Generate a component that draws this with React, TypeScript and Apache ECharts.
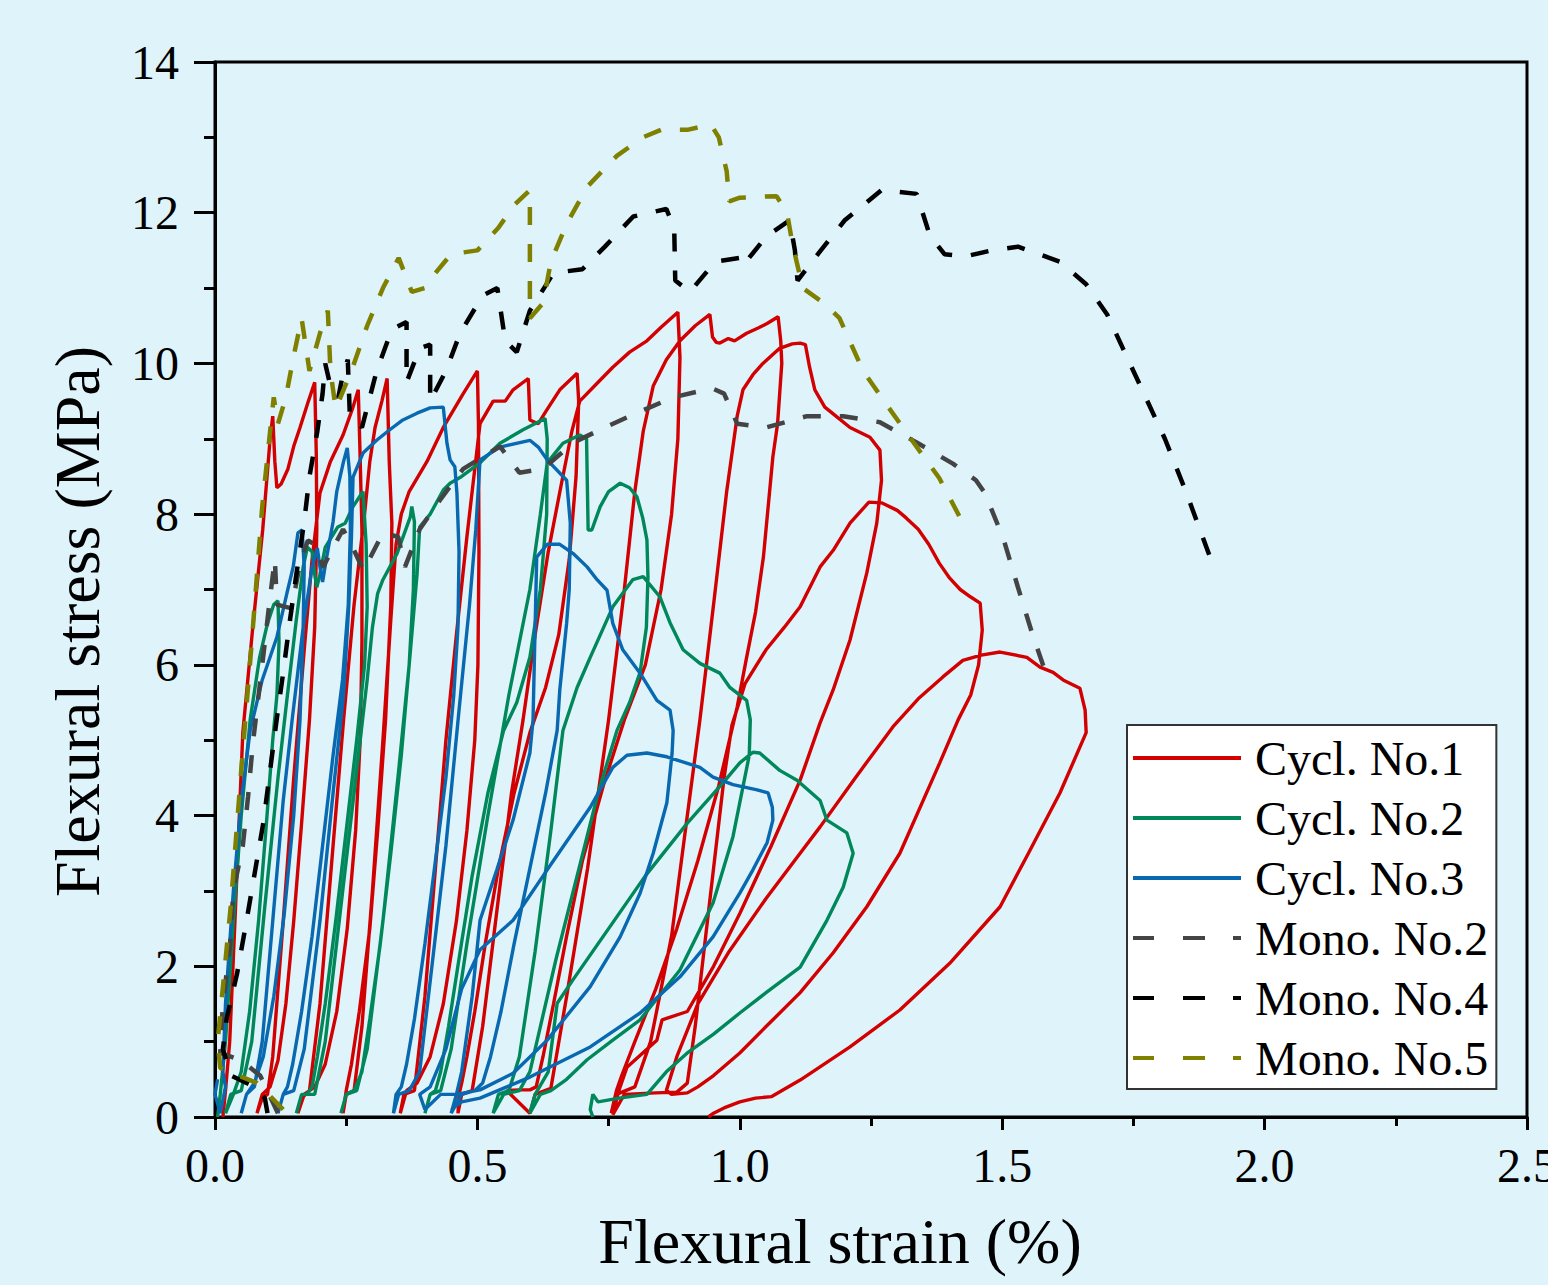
import React, { useEffect, useRef } from "react";
import * as echarts from "echarts";

const SERIES_NAMES = ["Cycl. No.1", "Cycl. No.2", "Cycl. No.3", "Mono. No.2", "Mono. No.4", "Mono. No.5"];
const SERIES_COLORS = ["#D20000", "#00875A", "#0868B0", "#444444", "#000000", "#808000"];

const X_LABELS = ["0.0", "0.5", "1.0", "1.5", "2.0", "2.5"];

// Cycl. No.1  [strain %, stress MPa]
const CYCL1: number[][] = [
  [0.015, 0.0], [0.02, 0.35], [0.028, 1.0], [0.038, 2.6], [0.053, 5.1], [0.072, 6.5], [0.091, 7.8], [0.105, 9.0], [0.11, 9.3],
  [0.114, 8.7], [0.118, 8.35], [0.126, 8.4], [0.139, 8.6], [0.15, 8.9], [0.162, 9.15], [0.178, 9.5], [0.19, 9.75],
  [0.193, 8.8], [0.194, 7.8], [0.19, 6.5], [0.18, 5.27], [0.165, 3.9], [0.15, 2.6], [0.135, 1.5], [0.12, 0.75], [0.105, 0.4], [0.09, 0.3], [0.08, 0.05], [0.09, 0.25],
  [0.1, 0.3], [0.11, 0.8], [0.13, 2.6], [0.15, 4.5], [0.17, 6.2], [0.185, 7.4], [0.2, 8.28], [0.22, 8.7], [0.244, 9.05], [0.262, 9.4], [0.273, 9.65],
  [0.276, 8.9], [0.28, 7.8], [0.28, 6.3], [0.277, 5.05], [0.268, 3.8], [0.252, 2.5], [0.232, 1.4], [0.21, 0.7], [0.19, 0.4], [0.17, 0.3], [0.158, 0.05], [0.165, 0.25],
  [0.18, 0.35], [0.2, 1.5], [0.225, 3.6], [0.245, 5.27], [0.265, 6.8], [0.285, 8.0], [0.295, 8.7], [0.305, 9.15], [0.318, 9.5], [0.328, 9.8],
  [0.332, 8.7], [0.337, 7.88], [0.335, 6.8], [0.325, 5.27], [0.31, 3.8], [0.295, 2.5], [0.275, 1.4], [0.26, 0.7], [0.25, 0.35], [0.244, 0.05], [0.25, 0.3],
  [0.265, 0.35], [0.28, 1.2], [0.3, 3.0], [0.32, 5.0], [0.335, 6.6], [0.345, 7.6], [0.355, 8.0], [0.37, 8.3], [0.404, 8.7], [0.435, 9.15], [0.473, 9.6], [0.5, 9.9],
  [0.502, 9.2], [0.503, 7.5], [0.501, 6.0], [0.495, 5.0], [0.48, 3.8], [0.46, 2.6], [0.435, 1.5], [0.41, 0.8], [0.385, 0.45], [0.365, 0.35], [0.353, 0.05], [0.36, 0.3],
  [0.38, 0.35], [0.4, 1.6], [0.42, 3.3], [0.44, 5.0], [0.46, 6.4], [0.48, 7.7], [0.495, 8.6], [0.505, 9.2], [0.53, 9.5], [0.553, 9.5], [0.568, 9.65], [0.597, 9.8],
  [0.6, 9.25], [0.616, 9.2], [0.632, 9.38], [0.657, 9.65], [0.69, 9.87],
  [0.693, 9.5], [0.688, 8.5], [0.675, 7.4], [0.655, 6.4], [0.63, 5.7], [0.6, 5.1], [0.57, 4.3], [0.54, 3.3], [0.515, 2.3], [0.495, 1.4], [0.48, 0.8], [0.47, 0.45], [0.465, 0.3], [0.463, 0.05], [0.47, 0.3],
  [0.49, 0.35], [0.51, 1.2], [0.54, 2.9], [0.565, 4.3], [0.587, 5.27], [0.61, 6.4], [0.635, 7.5], [0.66, 8.4], [0.68, 9.1], [0.695, 9.5], [0.73, 9.75], [0.758, 9.95], [0.79, 10.15], [0.823, 10.3], [0.85, 10.48], [0.882, 10.68],
  [0.886, 10.08], [0.882, 9.0], [0.87, 8.0], [0.85, 7.0], [0.82, 6.0], [0.78, 5.27], [0.74, 4.4], [0.7, 3.4], [0.67, 2.4], [0.645, 1.5], [0.625, 0.8], [0.612, 0.4], [0.6, 0.36], [0.58, 0.36], [0.556, 0.35], [0.6, 0.05], [0.61, 0.3],
  [0.64, 0.38], [0.67, 1.6], [0.71, 3.3], [0.75, 5.27], [0.78, 7.0], [0.8, 8.3], [0.816, 9.1], [0.835, 9.7], [0.86, 10.05], [0.886, 10.3], [0.915, 10.5], [0.943, 10.65],
  [0.948, 10.35], [0.955, 10.28], [0.962, 10.27], [0.978, 10.33], [0.99, 10.3], [1.013, 10.4], [1.035, 10.47], [1.052, 10.53], [1.073, 10.62],
  [1.078, 10.3], [1.08, 10.0], [1.072, 9.2], [1.063, 8.76], [1.045, 7.43], [1.03, 6.7], [1.013, 6.1], [0.995, 5.44], [0.96, 4.4], [0.92, 3.4], [0.88, 2.5], [0.84, 1.7], [0.8, 1.0], [0.775, 0.55], [0.765, 0.35], [0.755, 0.05],
  [0.765, 0.3], [0.8, 0.4], [0.83, 1.0], [0.87, 2.4], [0.9, 4.0], [0.924, 5.27], [0.95, 6.8], [0.975, 8.3], [0.995, 9.3], [1.006, 9.65], [1.025, 9.85], [1.044, 10.0], [1.076, 10.2], [1.1, 10.26], [1.115, 10.27],
  [1.125, 10.25], [1.133, 9.95], [1.143, 9.65], [1.162, 9.42], [1.185, 9.29], [1.21, 9.15], [1.248, 9.02], [1.267, 8.85], [1.27, 8.45],
  [1.261, 7.88], [1.242, 7.22], [1.21, 6.33], [1.178, 5.67], [1.153, 5.23], [1.115, 4.47], [1.06, 3.6], [1.0, 2.7], [0.95, 2.0], [0.9, 1.4], [0.852, 1.29], [0.842, 1.02], [0.785, 0.66], [0.77, 0.36], [0.758, 0.03],
  [0.78, 0.3], [0.84, 0.32], [0.88, 0.33], [0.9, 0.45], [0.915, 1.2], [0.935, 2.4], [0.955, 3.6], [0.97, 4.5], [0.985, 5.2], [1.01, 5.75], [1.05, 6.2], [1.085, 6.5], [1.115, 6.77], [1.153, 7.3], [1.178, 7.52], [1.21, 7.88], [1.246, 8.16],
  [1.27, 8.15], [1.3, 8.05], [1.317, 7.95], [1.34, 7.8], [1.36, 7.6], [1.38, 7.35], [1.4, 7.15], [1.42, 7.0], [1.44, 6.9], [1.458, 6.82],
  [1.462, 6.46], [1.455, 6.0], [1.44, 5.6], [1.416, 5.27], [1.381, 4.7], [1.305, 3.5], [1.242, 2.79], [1.178, 2.18], [1.115, 1.65], [1.05, 1.2], [1.0, 0.85], [0.95, 0.55], [0.92, 0.4], [0.9, 0.32], [0.87, 0.3],
  [0.86, 0.35], [0.88, 0.8], [0.92, 1.5], [0.98, 2.2], [1.05, 2.9], [1.115, 3.5], [1.153, 3.85], [1.22, 4.5], [1.292, 5.18], [1.34, 5.55], [1.387, 5.84], [1.425, 6.06], [1.46, 6.13], [1.496, 6.17],
  [1.547, 6.1], [1.572, 5.97], [1.597, 5.9], [1.616, 5.8], [1.648, 5.69], [1.658, 5.4],
  [1.66, 5.1], [1.61, 4.3], [1.55, 3.5], [1.496, 2.79], [1.4, 2.04], [1.305, 1.42], [1.21, 0.93], [1.115, 0.49], [1.06, 0.27], [1.03, 0.25], [1.0, 0.2], [0.97, 0.12], [0.95, 0.05], [0.94, 0.0],
];

// Cycl. No.2
const CYCL2: number[][] = [
  [0.005, 0.0], [0.01, 0.3], [0.02, 1.0], [0.035, 2.6], [0.05, 4.0], [0.067, 5.27], [0.085, 6.1], [0.1, 6.55], [0.112, 6.8], [0.12, 6.85],
  [0.122, 6.3], [0.118, 5.6], [0.11, 5.0], [0.098, 3.9], [0.083, 2.6], [0.066, 1.4], [0.05, 0.6], [0.035, 0.3], [0.02, 0.05], [0.03, 0.3],
  [0.05, 0.35], [0.07, 1.0], [0.095, 2.8], [0.12, 4.5], [0.138, 5.6], [0.155, 6.6], [0.168, 7.3], [0.176, 7.56], [0.185, 7.5],
  [0.19, 7.2], [0.194, 7.03], [0.2, 7.2], [0.21, 7.56], [0.234, 7.83], [0.248, 7.88], [0.263, 8.1], [0.282, 8.3],
  [0.288, 7.6], [0.29, 6.77], [0.285, 6.0], [0.27, 5.0], [0.25, 3.8], [0.23, 2.6], [0.21, 1.5], [0.195, 0.8], [0.185, 0.4], [0.175, 0.3], [0.165, 0.3], [0.155, 0.05], [0.165, 0.3],
  [0.19, 0.3], [0.21, 1.0], [0.24, 2.8], [0.27, 4.6], [0.29, 5.8], [0.3, 6.5], [0.31, 6.95], [0.32, 7.13], [0.347, 7.48], [0.372, 7.96], [0.375, 8.1],
  [0.38, 7.9], [0.378, 7.0], [0.37, 6.0], [0.355, 4.8], [0.335, 3.5], [0.315, 2.3], [0.295, 1.3], [0.28, 0.6], [0.265, 0.35], [0.25, 0.3], [0.24, 0.05], [0.25, 0.3],
  [0.27, 0.35], [0.29, 0.9], [0.32, 2.6], [0.35, 4.6], [0.37, 6.0], [0.385, 7.2], [0.39, 7.83], [0.41, 8.0], [0.435, 8.32], [0.448, 8.41], [0.47, 8.5], [0.505, 8.68], [0.543, 8.94], [0.587, 9.12], [0.629, 9.27],
  [0.633, 9.0], [0.632, 8.0], [0.62, 7.0], [0.6, 6.1], [0.575, 5.5], [0.55, 5.13], [0.52, 4.3], [0.49, 3.2], [0.465, 2.1], [0.445, 1.2], [0.43, 0.6], [0.42, 0.35], [0.41, 0.3], [0.4, 0.05], [0.41, 0.3],
  [0.43, 0.35], [0.45, 0.9], [0.48, 2.3], [0.52, 4.0], [0.56, 5.6], [0.6, 7.0], [0.62, 8.0], [0.633, 8.68], [0.663, 8.94], [0.695, 9.05], [0.708, 9.0],
  [0.711, 7.79], [0.718, 7.79], [0.734, 8.1], [0.75, 8.3], [0.772, 8.41], [0.79, 8.35], [0.804, 8.23], [0.815, 7.95], [0.823, 7.66], [0.825, 7.17],
  [0.822, 6.5], [0.81, 5.9], [0.79, 5.5], [0.766, 5.13], [0.73, 4.3], [0.69, 3.2], [0.65, 2.1], [0.62, 1.2], [0.6, 0.6], [0.58, 0.35], [0.55, 0.3], [0.53, 0.05], [0.54, 0.3],
  [0.56, 0.35], [0.58, 0.8], [0.61, 2.2], [0.64, 3.8], [0.663, 5.13], [0.69, 5.7], [0.715, 6.1], [0.758, 6.77], [0.796, 7.13], [0.816, 7.17], [0.848, 6.9], [0.867, 6.56], [0.892, 6.2], [0.924, 6.02], [0.962, 5.89], [0.981, 5.7], [1.013, 5.53], [1.02, 5.27],
  [1.018, 4.8], [1.006, 4.38], [0.987, 3.72], [0.949, 2.84], [0.886, 1.95], [0.81, 1.29], [0.758, 1.02], [0.709, 0.76], [0.67, 0.5], [0.64, 0.35], [0.62, 0.3], [0.6, 0.05],
  [0.61, 0.3], [0.635, 0.6], [0.652, 1.51], [0.682, 1.82], [0.75, 2.5], [0.82, 3.2], [0.9, 3.9], [0.97, 4.45], [1.0, 4.7], [1.025, 4.84], [1.038, 4.83], [1.076, 4.6], [1.109, 4.47], [1.153, 4.2], [1.166, 3.94], [1.204, 3.77], [1.216, 3.5],
  [1.197, 3.05], [1.166, 2.61], [1.115, 1.99], [1.05, 1.65], [1.0, 1.38], [0.95, 1.1], [0.9, 0.85], [0.86, 0.6], [0.823, 0.3], [0.77, 0.25], [0.73, 0.2], [0.72, 0.3], [0.715, 0.1], [0.72, 0.0],
];

// Cycl. No.3
const CYCL3: number[][] = [
  [0.005, 0.5], [0.0, 0.3], [0.01, 0.05], [0.02, 0.4], [0.015, 0.6], [0.02, 1.5], [0.035, 3.0], [0.05, 4.2], [0.067, 5.13], [0.09, 5.8], [0.118, 6.37], [0.137, 6.95], [0.149, 7.3], [0.158, 7.75], [0.166, 7.79],
  [0.17, 7.3], [0.168, 6.5], [0.162, 5.27], [0.15, 4.0], [0.132, 2.7], [0.112, 1.6], [0.092, 0.8], [0.075, 0.45], [0.06, 0.3], [0.05, 0.05], [0.06, 0.3],
  [0.075, 0.4], [0.09, 1.0], [0.11, 2.6], [0.13, 4.2], [0.147, 5.27], [0.168, 6.5], [0.185, 7.3], [0.195, 7.55], [0.2, 7.3], [0.205, 7.1], [0.212, 7.4], [0.225, 7.9], [0.232, 8.3], [0.245, 8.7], [0.252, 8.88],
  [0.257, 8.5], [0.258, 7.8], [0.254, 6.8], [0.243, 5.8], [0.225, 4.8], [0.205, 3.6], [0.185, 2.4], [0.165, 1.4], [0.148, 0.7], [0.138, 0.4], [0.13, 0.3], [0.12, 0.05], [0.13, 0.3],
  [0.15, 0.35], [0.17, 0.9], [0.2, 2.6], [0.225, 4.3], [0.245, 5.6], [0.255, 6.8], [0.26, 7.7], [0.263, 8.49], [0.282, 8.81], [0.308, 8.98], [0.333, 9.12], [0.358, 9.25], [0.385, 9.34], [0.41, 9.41], [0.435, 9.42],
  [0.442, 8.94], [0.448, 8.72], [0.457, 8.63], [0.461, 8.28], [0.465, 7.5], [0.463, 6.5], [0.455, 5.6], [0.44, 4.5], [0.42, 3.4], [0.4, 2.3], [0.38, 1.3], [0.365, 0.7], [0.355, 0.4], [0.345, 0.3], [0.34, 0.05], [0.35, 0.3],
  [0.37, 0.35], [0.39, 0.6], [0.41, 1.8], [0.44, 3.6], [0.465, 5.4], [0.485, 6.8], [0.497, 7.8], [0.505, 8.72], [0.543, 8.89], [0.6, 8.98], [0.616, 8.89], [0.633, 8.72], [0.67, 8.45], [0.677, 7.88],
  [0.675, 7.0], [0.67, 6.55], [0.657, 5.67], [0.652, 5.13], [0.63, 4.3], [0.6, 3.3], [0.57, 2.3], [0.545, 1.4], [0.525, 0.8], [0.51, 0.45], [0.495, 0.35], [0.47, 0.3], [0.45, 0.05], [0.46, 0.3],
  [0.47, 0.6], [0.49, 1.6], [0.505, 2.61], [0.537, 3.28], [0.568, 3.94], [0.6, 4.83], [0.606, 5.27], [0.609, 6.2], [0.613, 7.43], [0.633, 7.6], [0.657, 7.6], [0.682, 7.48], [0.709, 7.3], [0.728, 7.13], [0.747, 6.99], [0.758, 6.55], [0.777, 6.2], [0.81, 5.89], [0.842, 5.53], [0.867, 5.4], [0.873, 5.13],
  [0.871, 4.83], [0.861, 4.17], [0.835, 3.5], [0.81, 2.97], [0.772, 2.39], [0.715, 1.73], [0.633, 1.02], [0.568, 0.58], [0.505, 0.36], [0.46, 0.3], [0.43, 0.3], [0.4, 0.1], [0.39, 0.3],
  [0.41, 0.4], [0.44, 0.9], [0.47, 1.7], [0.505, 2.22], [0.568, 2.61], [0.633, 3.28], [0.715, 4.11], [0.758, 4.64], [0.785, 4.8], [0.823, 4.83], [0.861, 4.78], [0.924, 4.64], [0.949, 4.51], [0.987, 4.41], [1.033, 4.34], [1.054, 4.3], [1.062, 4.11], [1.063, 3.94], [1.052, 3.64], [1.025, 3.28],
  [1.0, 2.97], [0.949, 2.39], [0.886, 1.86], [0.81, 1.38], [0.715, 0.93], [0.6, 0.53], [0.556, 0.4], [0.505, 0.25], [0.47, 0.2], [0.45, 0.1],
];

// Mono. No.2
const MONO2: number[][] = [
  [0.12, 0.05], [0.086, 0.55], [0.05, 0.75], [0.01, 0.85], [0.015, 1.5], [0.029, 2.3], [0.035, 3.0], [0.053, 3.6], [0.063, 4.25], [0.072, 4.95], [0.09, 6.0], [0.105, 6.9], [0.114, 7.4], [0.118, 6.8],
  [0.146, 6.75], [0.162, 7.35], [0.177, 7.65], [0.19, 7.6], [0.206, 7.3], [0.244, 7.8], [0.263, 7.55], [0.283, 7.25], [0.32, 7.75], [0.349, 7.7], [0.362, 7.3], [0.39, 7.8], [0.43, 8.2], [0.473, 8.6],
  [0.543, 8.9], [0.58, 8.55], [0.625, 8.6], [0.683, 8.95], [0.743, 9.15], [0.806, 9.35], [0.873, 9.55], [0.947, 9.67], [0.97, 9.6], [0.995, 9.2], [1.05, 9.15], [1.128, 9.3], [1.197, 9.3], [1.267, 9.22],
  [1.337, 8.95], [1.406, 8.67], [1.45, 8.45], [1.467, 8.28], [1.502, 7.68], [1.53, 7.03], [1.557, 6.42], [1.59, 5.75],
];

// Mono. No.4
const MONO4: number[][] = [
  [0.1, 0.05], [0.095, 0.25], [0.07, 0.42], [0.03, 0.55], [0.015, 0.9], [0.022, 1.3], [0.042, 1.9], [0.06, 2.6], [0.076, 3.25], [0.092, 3.9], [0.105, 4.6], [0.118, 5.3], [0.13, 5.9], [0.143, 6.6], [0.155, 7.2],
  [0.17, 7.9], [0.18, 8.5], [0.195, 9.1], [0.205, 9.6], [0.21, 10.0], [0.22, 9.7], [0.235, 9.55], [0.245, 9.9], [0.253, 10.05], [0.257, 9.3], [0.28, 9.15], [0.308, 9.9], [0.337, 10.45], [0.365, 10.55], [0.365, 9.75],
  [0.39, 10.2], [0.41, 10.25], [0.41, 9.5], [0.44, 9.9], [0.467, 10.4], [0.51, 10.9], [0.538, 11.0], [0.553, 10.3], [0.575, 10.15], [0.6, 10.7], [0.645, 11.2], [0.7, 11.25], [0.743, 11.55], [0.797, 11.95], [0.86, 12.05],
  [0.875, 11.8], [0.877, 11.1], [0.905, 10.95], [0.953, 11.35], [1.0, 11.4], [1.006, 11.3], [1.05, 11.68], [1.095, 11.9], [1.105, 11.5], [1.11, 11.1], [1.143, 11.4], [1.2, 11.9], [1.27, 12.3], [1.337, 12.25],
  [1.362, 11.7], [1.39, 11.45], [1.43, 11.42], [1.48, 11.5], [1.53, 11.55], [1.61, 11.35], [1.66, 11.05], [1.7, 10.65], [1.73, 10.2], [1.77, 9.6], [1.81, 9.0], [1.85, 8.3], [1.895, 7.45],
];

// Mono. No.5
const MONO5: number[][] = [
  [0.13, 0.1], [0.08, 0.45], [0.01, 0.65], [0.005, 1.0], [0.03, 2.8], [0.05, 4.6], [0.07, 6.3], [0.09, 8.1], [0.105, 9.1], [0.112, 9.55], [0.12, 9.2], [0.135, 9.55], [0.15, 10.1], [0.165, 10.6], [0.18, 9.9],
  [0.2, 10.4], [0.215, 10.7], [0.22, 9.9], [0.23, 9.4], [0.26, 9.9], [0.29, 10.5], [0.32, 11.0], [0.35, 11.4], [0.375, 10.95], [0.4, 11.0], [0.42, 11.2], [0.45, 11.45], [0.5, 11.5], [0.54, 11.8], [0.57, 12.1],
  [0.6, 12.3], [0.6, 10.6], [0.625, 10.8], [0.64, 11.35], [0.67, 11.85], [0.71, 12.35], [0.765, 12.75], [0.815, 13.0], [0.85, 13.1], [0.9, 13.1], [0.945, 13.17], [0.96, 13.0], [0.975, 12.55], [0.98, 12.15],
  [1.0, 12.2], [1.07, 12.22], [1.09, 12.0], [1.1, 11.6], [1.12, 11.0], [1.16, 10.8], [1.19, 10.6], [1.235, 9.9], [1.28, 9.45], [1.33, 8.96], [1.38, 8.48], [1.42, 7.95],
];

const SERIES_DATA = [CYCL1, CYCL2, CYCL3, MONO2, MONO4, MONO5];

const FONT = "Liberation Serif";

const SOLID_ICON = "path://M0,0h108v4h-108z";
const DASH_ICON = "path://M0,0h21v4h-21z M50,0h22v4h-22z M100,0h8v4h-8z";

export default function App() {
  const ref = useRef<HTMLDivElement>(null);
  useEffect(() => {
    if (!ref.current) return;
    const chart = echarts.init(ref.current, null, { renderer: "svg" });
    const series = SERIES_DATA.map((data, i) => {
      const dashed = i >= 3;
      return {
        name: SERIES_NAMES[i],
        type: "line",
        data,
        showSymbol: false,
        symbol: "none",
        smooth: false,
        z: 2 + i,
        color: SERIES_COLORS[i],
        lineStyle: {
          color: SERIES_COLORS[i],
          width: dashed ? 4.5 : 3.4,
          type: dashed ? [18, 19] : "solid",
        },
      };
    });
    chart.setOption({
      animation: false,
      backgroundColor: "#DFF3FA",
      grid: {
        left: 215,
        top: 62,
        width: 1312,
        height: 1055,
        containLabel: false,
        outerBoundsMode: "none",
        show: true,
        borderColor: "#000",
        borderWidth: 3,
        backgroundColor: "transparent",
      },
      xAxis: {
        type: "value",
        min: 0,
        max: 2.5,
        interval: 0.5,
        name: "Flexural strain (%)",
        nameLocation: "middle",
        nameGap: 92,
        nameTextStyle: { fontFamily: FONT, fontSize: 64, color: "#000", padding: [0, 62, 0, 0] },
        axisLine: { show: true, onZero: false, lineStyle: { color: "#000", width: 3 } },
        axisTick: { show: true, inside: false, length: 13, lineStyle: { color: "#000", width: 3 } },
        minorTick: { show: true, splitNumber: 2, length: 9, lineStyle: { color: "#000", width: 3 } },
        splitLine: { show: false },
        axisLabel: {
          fontFamily: FONT,
          fontSize: 48,
          color: "#000",
          margin: 24,
          showMinLabel: true,
          showMaxLabel: true,
          formatter: (v: number) => X_LABELS[Math.round(v / 0.5)] ?? String(v),
        },
      },
      yAxis: {
        type: "value",
        min: 0,
        max: 14,
        interval: 2,
        name: "Flexural stress (MPa)",
        nameLocation: "middle",
        nameGap: 106,
        nameTextStyle: { fontFamily: FONT, fontSize: 64, color: "#000", padding: [0, 64, 0, 0] },
        axisLine: { show: true, onZero: false, lineStyle: { color: "#000", width: 3 } },
        axisTick: { show: true, inside: false, length: 21, lineStyle: { color: "#000", width: 3 } },
        minorTick: { show: true, splitNumber: 2, length: 11, lineStyle: { color: "#000", width: 3 } },
        splitLine: { show: false },
        axisLabel: { fontFamily: FONT, fontSize: 48, color: "#000", margin: 36 },
      },
      legend: {
        orient: "vertical",
        left: 1127,
        top: 725,
        backgroundColor: "#FFFFFF",
        borderColor: "#333",
        borderWidth: 2,
        borderRadius: 0,
        padding: [9, 8, 7, 6],
        itemWidth: 108,
        itemHeight: 4,
        itemGap: 12,
        data: SERIES_NAMES.map((name, i) => ({ name, icon: i >= 3 ? DASH_ICON : SOLID_ICON })),
        textStyle: { fontFamily: FONT, fontSize: 48, color: "#000", lineHeight: 48, padding: [0, 0, 0, 9] },
      },
      series,
    });
    return () => chart.dispose();
  }, []);
  return (
    <div
      ref={ref}
      style={{ position: "fixed", left: 0, top: 0, width: 1548, height: 1285, background: "#DFF3FA" }}
    />
  );
}
